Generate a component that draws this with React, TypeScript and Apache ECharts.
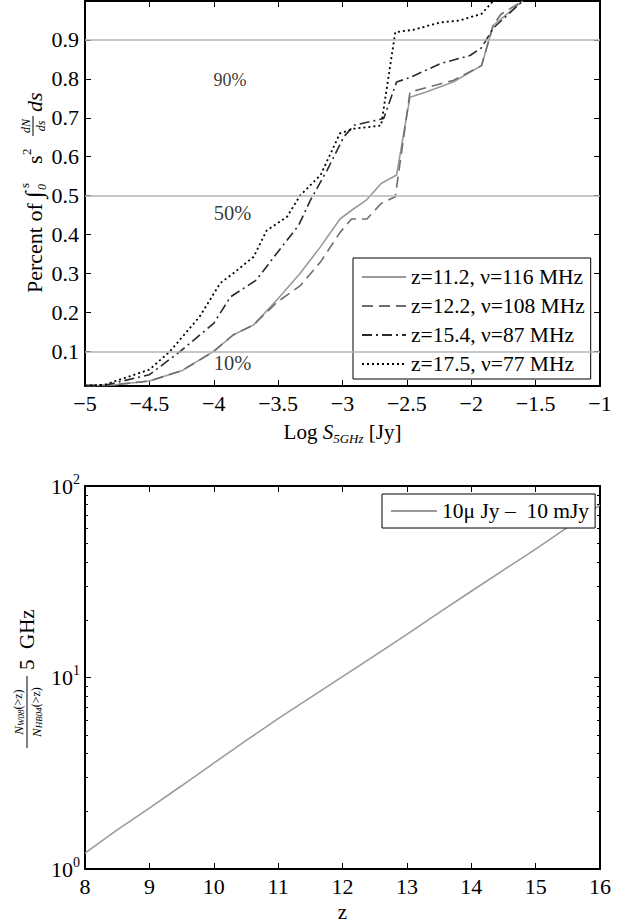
import React, { useEffect, useRef } from 'react';
import * as echarts from 'echarts';

const FONT = '"Liberation Serif", "Times New Roman", serif';

// ---- Top panel: cumulative fraction vs log flux ----
const z112X = [-5, -4.8, -4.5, -4.25, -4.0, -3.85, -3.69, -3.51, -3.33, -3.17, -3.02, -2.91, -2.81, -2.70, -2.58, -2.476, -2.35, -2.14, -1.92, -1.83, -1.6];
const z112Y = [0.012, 0.013, 0.024, 0.05, 0.10, 0.142, 0.168, 0.232, 0.30, 0.369, 0.44, 0.467, 0.49, 0.531, 0.553, 0.753, 0.766, 0.792, 0.834, 0.937, 1.0];

const z122X = [-5, -4.8, -4.5, -4.25, -4.0, -3.85, -3.69, -3.51, -3.33, -3.17, -3.02, -2.93, -2.81, -2.70, -2.59, -2.476, -2.14, -1.92, -1.83, -1.77, -1.6];
const z122Y = [0.012, 0.013, 0.024, 0.05, 0.10, 0.142, 0.168, 0.226, 0.268, 0.33, 0.405, 0.44, 0.44, 0.48, 0.497, 0.766, 0.796, 0.834, 0.937, 0.966, 1.0];

const z154X = [-5, -4.83, -4.5, -4.26, -4.0, -3.87, -3.67, -3.51, -3.34, -3.25, -3.12, -2.99, -2.91, -2.68, -2.58, -2.48, -2.24, -2.01, -1.92, -1.83, -1.6];
const z154Y = [0.012, 0.014, 0.04, 0.10, 0.172, 0.24, 0.283, 0.352, 0.424, 0.488, 0.565, 0.651, 0.681, 0.698, 0.792, 0.803, 0.839, 0.86, 0.88, 0.93, 1.0];

const z175X = [-5, -4.85, -4.5, -4.34, -4.11, -3.95, -3.85, -3.69, -3.59, -3.43, -3.33, -3.17, -3.02, -2.91, -2.70, -2.59, -2.45, -2.24, -2.09, -1.92, -1.83];
const z175Y = [0.012, 0.014, 0.053, 0.10, 0.189, 0.275, 0.30, 0.343, 0.41, 0.446, 0.50, 0.553, 0.66, 0.672, 0.68, 0.92, 0.926, 0.945, 0.95, 0.967, 1.0];

const seriesNames = ['z=11.2, ν=116 MHz', 'z=12.2, ν=108 MHz', 'z=15.4, ν=87 MHz', 'z=17.5, ν=77 MHz'];

const guideLevels = [0.1, 0.5, 0.9];
const pctX = [-3.87, -3.85, -3.85];
const pctY = [0.796, 0.453, 0.07];
const pctText = ['90%', '50%', '10%'];
const pctSize = [18, 20.5, 20.5];

const topYTicks = [0.1, 0.2, 0.3, 0.4, 0.5, 0.6, 0.7, 0.8, 0.9];

// ---- Bottom panel: ratio vs redshift ----
const zVals = [8, 8.5, 9, 9.5, 10, 10.5, 11, 11.5, 12, 12.5, 13, 13.5, 14, 14.5, 15, 15.5, 16];
const ratioVals = [1.21, 1.6, 2.08, 2.72, 3.57, 4.68, 6.1, 7.85, 10.1, 13.0, 16.8, 21.8, 28.2, 36.4, 46.8, 61, 79.4];
const bottomName = '10μ Jy –  10 mJy';

const pairs = (xs: number[], ys: number[]) => xs.map((x, i) => [x, ys[i]]);

const black = '#000';

const txt = (text: string, x: number, y: number, size: number, italic = false, align = 'left') => ({
  type: 'text', x, y,
  style: {
    text, fontFamily: FONT, fontSize: size, fontStyle: italic ? 'italic' : 'normal',
    fill: black, align, verticalAlign: 'middle',
  },
});

export default function App() {
  const ref = useRef<HTMLDivElement>(null);
  useEffect(() => {
    if (!ref.current) return;
    const chart = echarts.init(ref.current, undefined, { renderer: 'svg' });
    const tickLabel = { fontFamily: FONT, fontSize: 22, color: black };
    const frameLine = { show: true, lineStyle: { color: black, width: 2 } };
    const inTick = { show: true, inside: true, length: 6, lineStyle: { color: black, width: 1 } };
    const minusFmt = (v: number) => (v < 0 ? '−' : '') + String(Math.abs(v));
    const fracRich = {
      i: { fontFamily: FONT, fontSize: 13, fontStyle: 'italic', fill: black },
      s: { fontFamily: FONT, fontSize: 9, fontStyle: 'italic', fill: black, verticalAlign: 'bottom', lineHeight: 14 },
      t: { fontFamily: FONT, fontSize: 12, fill: black },
    };

    const option: any = {
      animation: false,
      backgroundColor: '#fff',
      textStyle: { fontFamily: FONT },
      grid: [
        { left: 85, top: 1, width: 515, height: 385 },
        { left: 85, top: 486, width: 515, height: 386 },
      ],
      xAxis: [
        {
          gridIndex: 0, type: 'value', min: -5, max: -1, interval: 0.5, position: 'bottom',
          axisLine: frameLine, axisTick: inTick, splitLine: { show: false },
          axisLabel: { ...tickLabel, margin: 6, formatter: minusFmt },
          name: 'Log {i|S}{sb|5GHz} [Jy]', nameLocation: 'middle', nameGap: 33,
          nameTextStyle: {
            fontFamily: FONT, fontSize: 21, color: black,
            rich: {
              i: { fontFamily: FONT, fontSize: 21, fontStyle: 'italic', color: black, lineHeight: 26 },
              sb: { fontFamily: FONT, fontSize: 13, fontStyle: 'italic', color: black, verticalAlign: 'bottom', lineHeight: 26 },
            },
          },
        },
        {
          gridIndex: 0, type: 'value', min: -5, max: -1, interval: 0.5, position: 'top',
          axisLine: frameLine, axisTick: inTick, axisLabel: { show: false }, splitLine: { show: false },
        },
        {
          gridIndex: 1, type: 'value', min: 8, max: 16, interval: 1, position: 'bottom',
          axisLine: frameLine, axisTick: inTick, splitLine: { show: false },
          axisLabel: { ...tickLabel, margin: 6 },
          name: 'z', nameLocation: 'middle', nameGap: 32,
          nameTextStyle: { fontFamily: FONT, fontSize: 21, color: black },
        },
        {
          gridIndex: 1, type: 'value', min: 8, max: 16, interval: 1, position: 'top',
          axisLine: frameLine, axisTick: inTick, axisLabel: { show: false }, splitLine: { show: false },
        },
      ],
      yAxis: [
        {
          gridIndex: 0, type: 'value', min: 0.011, max: 1.0, position: 'left',
          axisLine: frameLine,
          axisTick: { ...inTick, customValues: topYTicks },
          axisLabel: { ...tickLabel, margin: 6, customValues: topYTicks, formatter: (v: number) => v.toFixed(1) },
          splitLine: { show: false },
        },
        {
          gridIndex: 0, type: 'value', min: 0.011, max: 1.0, position: 'right',
          axisLine: frameLine,
          axisTick: { ...inTick, customValues: topYTicks },
          axisLabel: { show: false, customValues: topYTicks },
          splitLine: { show: false },
        },
        {
          gridIndex: 1, type: 'log', logBase: 10, min: 1, max: 100, position: 'left',
          axisLine: frameLine, axisTick: inTick,
          minorTick: { show: true, splitNumber: 9, length: 3, lineStyle: { color: black, width: 1 } },
          splitLine: { show: false },
          axisLabel: {
            margin: 5,
            formatter: (v: number) => '{b|10}{s|' + Math.round(Math.log10(v)) + '}',
            rich: {
              b: { fontFamily: FONT, fontSize: 22, color: black, lineHeight: 28 },
              s: { fontFamily: FONT, fontSize: 14, color: black, verticalAlign: 'top', lineHeight: 28 },
            },
          },
        },
        {
          gridIndex: 1, type: 'log', logBase: 10, min: 1, max: 100, position: 'right',
          axisLine: frameLine, axisTick: inTick,
          minorTick: { show: true, splitNumber: 9, length: 3, lineStyle: { color: black, width: 1 } },
          axisLabel: { show: false }, splitLine: { show: false },
        },
      ],
      legend: [
        {
          data: seriesNames, orient: 'vertical', left: 353, top: 258,
          itemWidth: 44, itemHeight: 22, itemGap: 7, padding: [8, 6, 4, 8],
          borderColor: black, borderWidth: 1, backgroundColor: '#fff', borderRadius: 0,
          selectedMode: false,
          itemStyle: { opacity: 0 },
          textStyle: { fontFamily: FONT, fontSize: 21.5, color: black, lineHeight: 22 },
        },
        {
          data: [bottomName], orient: 'vertical', left: 382, top: 494,
          itemWidth: 46, itemHeight: 22, padding: [6, 6, 6, 8],
          borderColor: black, borderWidth: 1, backgroundColor: '#fff', borderRadius: 0,
          selectedMode: false,
          itemStyle: { opacity: 0 },
          textStyle: { fontFamily: FONT, fontSize: 21.5, color: black, lineHeight: 22 },
        },
      ],
      graphic: [
        // top y-axis title: Percent of ∫_0^s s^2 (dN/ds) ds
        {
          type: 'group', x: 34, y: 293, rotation: Math.PI / 2, silent: true,
          children: [
            txt('Percent of', 0, 0, 22),
            txt('∫', 95, 0, 24),
            txt('0', 103, 8, 12, true),
            txt('s', 105, -10, 13),
            txt('s', 129, 0, 22),
            txt('2', 138, -8, 13),
            txt('dN', 167, -8, 12, true, 'center'),
            { type: 'line', shape: { x1: 157, y1: -1, x2: 177, y2: -1 }, style: { stroke: black, lineWidth: 1 } },
            txt('ds', 167, 7, 12, true, 'center'),
            txt('ds', 181, 0, 22, true),
          ],
        },
        // bottom y-axis title: N_W08(>z)/N_HB04(>z) 5 GHz
        {
          type: 'group', x: 27, y: 712, rotation: Math.PI / 2, silent: true,
          children: [
            {
              type: 'text', x: 0, y: -9,
              style: { text: '{i|N}{s|W08}{t|(>z)}', align: 'center', verticalAlign: 'middle', rich: fracRich },
            },
            { type: 'line', shape: { x1: -36, y1: 0, x2: 36, y2: 0 }, style: { stroke: black, lineWidth: 1 } },
            {
              type: 'text', x: 0, y: 9,
              style: { text: '{i|N}{s|HB04}{t|(>z)}', align: 'center', verticalAlign: 'middle', rich: fracRich },
            },
            txt('5  GHz', 42, 0, 21),
          ],
        },
      ],
      series: [
        {
          name: seriesNames[0], type: 'line', xAxisIndex: 0, yAxisIndex: 0,
          data: pairs(z112X, z112Y), symbol: 'none', showSymbol: false,
          lineStyle: { color: '#9a9a9a', width: 1.6, type: 'solid' }, itemStyle: { color: '#9a9a9a' },
          markLine: {
            silent: true, symbol: 'none', label: { show: false },
            lineStyle: { color: '#b4b4b4', width: 1.6, type: 'solid' },
            data: guideLevels.map((v) => ({ yAxis: v })),
          },
          z: 3,
        },
        {
          name: seriesNames[1], type: 'line', xAxisIndex: 0, yAxisIndex: 0,
          data: pairs(z122X, z122Y), symbol: 'none', showSymbol: false,
          lineStyle: { color: '#6e6e6e', width: 1.6, type: [11, 6] }, itemStyle: { color: '#6e6e6e' },
          z: 3,
        },
        {
          name: seriesNames[2], type: 'line', xAxisIndex: 0, yAxisIndex: 0,
          data: pairs(z154X, z154Y), symbol: 'none', showSymbol: false,
          lineStyle: { color: '#2a2a2a', width: 1.6, type: [10, 4, 2, 4] }, itemStyle: { color: '#2a2a2a' },
          z: 3,
        },
        {
          name: seriesNames[3], type: 'line', xAxisIndex: 0, yAxisIndex: 0,
          data: pairs(z175X, z175Y), symbol: 'none', showSymbol: false,
          lineStyle: { color: '#000', width: 1.8, type: [2, 3] }, itemStyle: { color: '#000' },
          z: 3,
        },
        {
          name: 'pct', type: 'scatter', xAxisIndex: 0, yAxisIndex: 0,
          data: pctX.map((x, i) => ({
            value: [x, pctY[i]],
            label: {
              show: true, position: [0, 0], align: 'center', verticalAlign: 'middle',
              formatter: pctText[i], fontFamily: FONT, fontSize: pctSize[i], color: black,
            },
          })),
          symbolSize: 1, itemStyle: { color: 'rgba(0,0,0,0)' }, silent: true,
        },
        {
          name: bottomName, type: 'line', xAxisIndex: 2, yAxisIndex: 2,
          data: pairs(zVals, ratioVals), symbol: 'none', showSymbol: false,
          lineStyle: { color: '#9a9a9a', width: 1.6 }, itemStyle: { color: '#9a9a9a' },
        },
      ],
    };
    chart.setOption(option);
    return () => chart.dispose();
  }, []);
  return (
    <div
      ref={ref}
      style={{ position: 'absolute', left: 0, top: 0, width: 623, height: 923, background: '#fff' }}
    />
  );
}
